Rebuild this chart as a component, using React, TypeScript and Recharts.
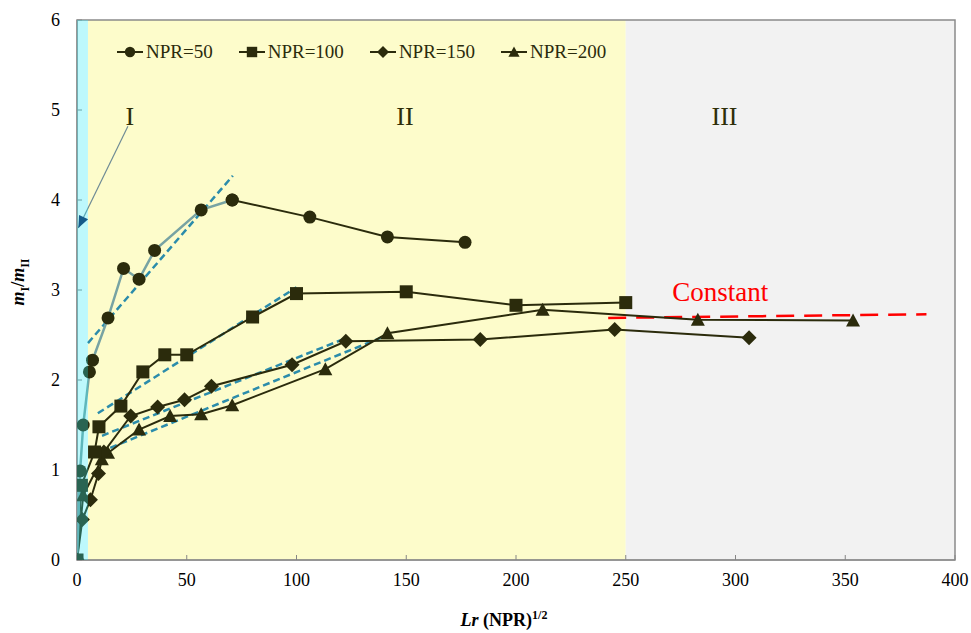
import React from 'react';
import { ComposedChart, Line, XAxis, YAxis, ReferenceArea, ReferenceDot } from 'recharts';

// Lr*(NPR)^1/2 and m_I/m_II for each NPR series
const lrNpr50 = [0, 1.41, 2.83, 5.66, 7.07, 14.14, 21.21, 28.28, 35.36, 56.57, 70.71, 106.07, 141.42, 176.78];
const ratioNpr50 = [0, 0.99, 1.5, 2.09, 2.22, 2.69, 3.24, 3.12, 3.44, 3.89, 4.0, 3.81, 3.59, 3.53];
const lrNpr100 = [0, 2, 8, 10, 20, 30, 40, 50, 80, 100, 150, 200, 250];
const ratioNpr100 = [0, 0.83, 1.2, 1.48, 1.71, 2.09, 2.28, 2.28, 2.7, 2.96, 2.98, 2.83, 2.86];
const lrNpr150 = [0, 2.45, 6.12, 9.8, 12.25, 24.49, 36.74, 48.99, 61.24, 97.98, 122.47, 183.71, 244.95, 306.19];
const ratioNpr150 = [0, 0.45, 0.67, 0.96, 1.2, 1.6, 1.7, 1.78, 1.93, 2.17, 2.43, 2.45, 2.56, 2.47];
const lrNpr200 = [0, 2.83, 11.31, 14.14, 28.28, 42.43, 56.57, 70.71, 113.14, 141.42, 212.13, 282.84, 353.55];
const ratioNpr200 = [0, 0.72, 1.12, 1.19, 1.45, 1.6, 1.62, 1.72, 2.12, 2.52, 2.78, 2.67, 2.66];

// dashed fitted trends [x0, y0, x1, y1]
const trendLines = [
  [5, 2.41, 71, 4.27],
  [9.5, 1.63, 100, 3.03],
  [11.4, 1.38, 122, 2.46],
  [10.5, 1.2, 141.5, 2.5],
];
const constantLine = [242, 2.69, 387, 2.73];
const arrowLine = [23.2, 4.82, 0.6, 3.69];

const seriesNames = ['NPR=50', 'NPR=100', 'NPR=150', 'NPR=200'];
const regionBounds = [0, 5, 250, 400];
const regionNames = ['I', 'II', 'III'];
const regionLabelX = [24.1, 149.4, 295];
const xTicks = [0, 50, 100, 150, 200, 250, 300, 350, 400];
const yTicks = [0, 1, 2, 3, 4, 5, 6];

const DARK = '#2b2b0c';
const TEAL_LINE = '#77a3a3';
const TREND = '#2b8cab';
const FONT = '"Liberation Serif", "Times New Roman", serif';

const zip = (xs: number[], ys: number[]) => xs.map((x, i) => ({ x, y: ys[i] }));
const seg = (s: number[]) => [{ x: s[0], y: s[1] }, { x: s[2], y: s[3] }];

const npr50 = zip(lrNpr50, ratioNpr50);
const npr50Rise = npr50.slice(0, 11);
const npr50Fall = npr50.slice(10);
const npr100 = zip(lrNpr100, ratioNpr100);
const npr150 = zip(lrNpr150, ratioNpr150);
const npr200 = zip(lrNpr200, ratioNpr200);

type Shape = 'circle' | 'square' | 'diamond' | 'triangle';
const shapes: Shape[] = ['circle', 'square', 'diamond', 'triangle'];

function Marker({ cx, cy, shape, s = 1 }: { cx: number; cy: number; shape: Shape; s?: number }) {
  if (cx == null || cy == null) return null;
  if (shape === 'circle') return <circle cx={cx} cy={cy} r={6.5 * s} fill={DARK} />;
  if (shape === 'square') {
    const h = 6.5 * s;
    return <rect x={cx - h} y={cy - h} width={2 * h} height={2 * h} fill={DARK} />;
  }
  if (shape === 'diamond') {
    const h = 7.5 * s;
    return <polygon points={`${cx},${cy - h} ${cx + h},${cy} ${cx},${cy + h} ${cx - h},${cy}`} fill={DARK} />;
  }
  const h = 7 * s;
  return <polygon points={`${cx},${cy - h} ${cx + h},${cy + h * 0.85} ${cx - h},${cy + h * 0.85}`} fill={DARK} />;
}

const dotOf = (shape: Shape) => (p: any) => <Marker key={`${shape}-${p.index}`} cx={p.cx} cy={p.cy} shape={shape} />;

const arrowDot = (p: any) => {
  if (p.index !== 1) return <g key={p.index} />;
  let ang = 116;
  if (p.points && p.points.length === 2) {
    const [a, b] = p.points;
    ang = (Math.atan2(b.y - a.y, b.x - a.x) * 180) / Math.PI;
  }
  return (
    <polygon
      key={p.index}
      points="0,0 -12,-5 -12,5"
      fill="#0d1f5c"
      transform={`translate(${p.cx},${p.cy}) rotate(${ang})`}
    />
  );
};

function XTick(props: any) {
  const { x, y, payload } = props;
  return (
    <text x={x} y={y} dy={13} textAnchor="middle" fontFamily={FONT} fontSize={18} fill="#000">
      {payload.value}
    </text>
  );
}

function YTick(props: any) {
  const { x, y, payload } = props;
  return (
    <text x={x} y={y} dy={6} textAnchor="end" fontFamily={FONT} fontSize={18} fill="#000">
      {payload.value}
    </text>
  );
}

function XTitle(props: any) {
  const vb = props.viewBox;
  return (
    <text x={vb.x + vb.width / 2 - 12} y={vb.y + 66} textAnchor="middle" fontFamily={FONT} fontSize={18} fontWeight="bold" fill="#000">
      <tspan fontStyle="italic">Lr</tspan>
      <tspan> (NPR)</tspan>
      <tspan fontSize={12} dy={-7}>1/2</tspan>
    </text>
  );
}

function YTitle(props: any) {
  const vb = props.viewBox;
  const cx = 24;
  const cy = vb.y + vb.height / 2 - 8;
  return (
    <text x={cx} y={cy} transform={`rotate(-90 ${cx} ${cy})`} textAnchor="middle" fontFamily={FONT} fontSize={18} fontWeight="bold" fill="#000">
      <tspan fontStyle="italic">m</tspan>
      <tspan fontSize={12} dy={5}>I</tspan>
      <tspan dy={-5}>/</tspan>
      <tspan fontStyle="italic">m</tspan>
      <tspan fontSize={12} dy={5}>II</tspan>
    </text>
  );
}

function LegendBox() {
  return (
    <div style={{ position: 'absolute', left: 116, top: 40, display: 'flex', fontFamily: FONT, fontSize: 19, color: DARK }}>
      {seriesNames.map((name, i) => (
        <div key={name} style={{ display: 'flex', alignItems: 'center', marginRight: 25 }}>
          <svg width={28} height={24}>
            <line x1={1} y1={12} x2={27} y2={12} stroke={DARK} strokeWidth={2} />
            <Marker cx={14} cy={12} shape={shapes[i]} s={0.8} />
          </svg>
          <span style={{ marginLeft: 2 }}>{name}</span>
        </div>
      ))}
    </div>
  );
}

export default function App() {
  return (
    <div style={{ position: 'absolute', left: 0, top: 0, width: 971, height: 633, background: '#fff' }}>
      <ComposedChart width={971} height={633} margin={{ top: 20, right: 16, left: 37, bottom: 13 }}>
        <XAxis
          type="number"
          dataKey="x"
          domain={[0, 400]}
          ticks={xTicks}
          allowDataOverflow
          height={60}
          tickSize={-5}
          tickMargin={18}
          stroke="#868686"
          tick={<XTick />}
          label={{ content: <XTitle /> }}
        />
        <YAxis
          type="number"
          dataKey="y"
          domain={[0, 6]}
          ticks={yTicks}
          allowDataOverflow
          width={40}
          tickSize={-5}
          tickMargin={22}
          stroke="#868686"
          tick={<YTick />}
          label={{ content: <YTitle /> }}
        />
        <ReferenceArea x1={regionBounds[1]} x2={regionBounds[2]} y1={0} y2={6} fill="#fdfccb" fillOpacity={1} stroke="none" />
        <ReferenceArea x1={regionBounds[2]} x2={regionBounds[3]} y1={0} y2={6} fill="#f2f2f2" fillOpacity={1} stroke="none" />
        <ReferenceArea x1={regionBounds[0]} x2={regionBounds[3]} y1={0} y2={6} fill="none" stroke="#8a8a8a" strokeWidth={1.5} />

        {trendLines.map((t, i) => (
          <Line key={`trend-${i}`} data={seg(t)} dataKey="y" stroke={TREND} strokeWidth={2.5} strokeDasharray="7 4" dot={false} isAnimationActive={false} />
        ))}
        <Line data={seg(constantLine)} dataKey="y" stroke="#ff0000" strokeWidth={2.5} strokeDasharray="18 10" dot={false} isAnimationActive={false} />
        <Line data={seg(arrowLine)} dataKey="y" stroke="#6f8b95" strokeWidth={1.2} dot={arrowDot} isAnimationActive={false} />

        <Line data={npr200} dataKey="y" name={seriesNames[3]} stroke={DARK} strokeWidth={2} dot={dotOf('triangle')} isAnimationActive={false} />
        <Line data={npr150} dataKey="y" name={seriesNames[2]} stroke={DARK} strokeWidth={2} dot={dotOf('diamond')} isAnimationActive={false} />
        <Line data={npr100} dataKey="y" name={seriesNames[1]} stroke={DARK} strokeWidth={2} dot={dotOf('square')} isAnimationActive={false} />
        <Line data={npr50Fall} dataKey="y" stroke={DARK} strokeWidth={2} dot={dotOf('circle')} isAnimationActive={false} />
        <Line data={npr50Rise} dataKey="y" name={seriesNames[0]} stroke={TEAL_LINE} strokeWidth={2.5} dot={dotOf('circle')} isAnimationActive={false} />

        <ReferenceArea x1={regionBounds[0]} x2={regionBounds[1]} y1={0} y2={6} fill="#26e7f5" fillOpacity={0.3} stroke="none" zIndex={1000} />

        {regionNames.map((n, i) => (
          <ReferenceDot
            key={n}
            x={regionLabelX[i]}
            y={4.94}
            r={0}
            fill="none"
            stroke="none"
            label={{ value: n, position: 'center', fill: '#2e2e08', fontSize: 26, fontFamily: FONT }}
          />
        ))}
        <ReferenceDot
          x={293}
          y={2.98}
          r={0}
          fill="none"
          stroke="none"
          label={{ value: 'Constant', position: 'center', fill: '#ff0000', fontSize: 27, fontFamily: FONT }}
        />
      </ComposedChart>
      <LegendBox />
    </div>
  );
}
